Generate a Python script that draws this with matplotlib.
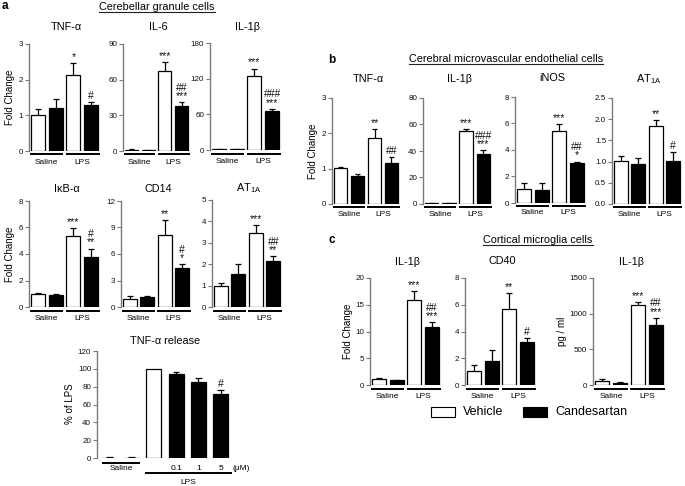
import matplotlib
matplotlib.use('Agg')
import matplotlib.pyplot as plt
import matplotlib.transforms as mtrans
from matplotlib.lines import Line2D
from matplotlib.patches import Rectangle
import numpy as np

plt.rcParams['font.family'] = ['Liberation Sans', 'DejaVu Sans']
plt.rcParams['mathtext.fontset'] = 'custom'
plt.rcParams['mathtext.rm'] = 'Liberation Sans'
plt.rcParams['mathtext.it'] = 'Liberation Sans:italic'
plt.rcParams['mathtext.bf'] = 'Liberation Sans:bold'

W, H = 685, 486
fig = plt.figure(figsize=(W / 100, H / 100), dpi=100)

# ---------------- data ----------------
groups = ['Saline', 'LPS']
legend_labels = ['Vehicle', 'Candesartan']

# Panel a: cerebellar granule cells (Saline-Veh, Saline-Cand, LPS-Veh, LPS-Cand)
a_tnf = [1.0, 1.21, 2.14, 1.29]
a_tnf_err = [0.18, 0.24, 0.33, 0.09]
a_il6 = [1.0, 0.7, 67.4, 37.5]
a_il6_err = [0.4, 0.3, 7.3, 3.6]
a_il1b = [1.0, 1.0, 124.5, 65.5]
a_il1b_err = [0.6, 0.6, 12.5, 4.0]
a_ikb = [1.0, 0.88, 5.36, 3.77]
a_ikb_err = [0.05, 0.11, 0.6, 0.64]
a_cd14 = [0.95, 1.13, 8.19, 4.45]
a_cd14_err = [0.26, 0.08, 1.7, 0.42]
a_at1a = [1.0, 1.56, 3.48, 2.14]
a_at1a_err = [0.12, 0.47, 0.35, 0.22]

# TNF-alpha release (% of LPS)
rel_labels = ['', '', '', '0.1', '1', '5']
rel_vals = [0.5, 0.5, 100.0, 94.3, 84.9, 72.0]
rel_err = [0.3, 0.3, 0.0, 1.9, 4.9, 3.8]

# Panel b: cerebral microvascular endothelial cells
b_tnf = [1.01, 0.80, 1.88, 1.17]
b_tnf_err = [0.05, 0.05, 0.24, 0.15]
b_il1b = [0.5, 0.5, 54.9, 38.1]
b_il1b_err = [0.3, 0.4, 2.0, 2.5]
b_inos = [1.05, 1.0, 5.43, 3.0]
b_inos_err = [0.43, 0.48, 0.55, 0.13]
b_at1a = [1.02, 0.95, 1.84, 1.02]
b_at1a_err = [0.11, 0.14, 0.14, 0.21]

# Panel c: cortical microglia cells
c_il1b = [1.06, 0.94, 15.9, 10.9]
c_il1b_err = [0.19, 0.05, 1.6, 0.85]
c_cd40 = [1.02, 1.78, 5.71, 3.25]
c_cd40_err = [0.5, 0.81, 1.19, 0.25]
c_il1b_pg = [56, 33, 1118, 848]
c_il1b_pg_err = [23, 9, 47, 93]

# ---------------- helpers ----------------
SPINE = '#7a7a7a'


def make_ax(left, top, right, bottom):
    return fig.add_axes([left / W, 1 - bottom / H, (right - left) / W, (bottom - top) / H])


def style_ax(ax, ymax, yticks, fmt=None):
    for s in ['top', 'right', 'bottom']:
        ax.spines[s].set_visible(False)
    ax.spines['left'].set_color(SPINE)
    ax.spines['left'].set_linewidth(1.0)
    ax.set_ylim(0, ymax)
    ax.set_yticks(yticks)
    if fmt:
        ax.set_yticklabels([fmt.format(v) for v in yticks])
    ax.tick_params(axis='y', length=3, width=0.8, color=SPINE, labelsize=5.8, pad=1.2, labelcolor='#111111')
    ax.set_xticks([])


def errbars(ax, x, vals, errs, hw=0.17):
    x = np.asarray(x, float)
    v = np.asarray(vals, float)
    e = np.asarray(errs, float)
    m = e > 0
    ax.vlines(x[m], v[m], v[m] + e[m], color='black', lw=0.9, zorder=1)
    ax.hlines(v[m] + e[m], x[m] - hw, x[m] + hw, color='black', lw=0.9, zorder=1)


def hline_px(ax, x0, x1, dpx, lw=1.4):
    bb = ax.get_position()
    hpx = bb.height * H
    tr = mtrans.blended_transform_factory(ax.transData, ax.transAxes)
    ax.plot([x0, x1], [-dpx / hpx] * 2, transform=tr, clip_on=False, color='black', lw=lw,
            solid_capstyle='butt')


def text_px(ax, x, dpx, s, **kw):
    bb = ax.get_position()
    hpx = bb.height * H
    tr = mtrans.blended_transform_factory(ax.transData, ax.transAxes)
    ax.text(x, -dpx / hpx, s, transform=tr, ha='center', va='center', clip_on=False, **kw)


def annotate(ax, x, top, s, ymax, hpx):
    pad = ymax * 1.0 / hpx
    ax.text(x, top + pad, s, ha='center', va='bottom', fontsize=7.5, linespacing=0.8,
            color='#111111')


def panel(box, vals, errs, ymax, yticks, title, title_y, ann_v, ann_c,
          ylabel=None, ylabel_x=None, fmt=None, label_off=11):
    left, top, right, bottom = box
    ax = make_ax(*box)
    x = [0, 1, 2, 3]
    colors = ['white', 'black', 'white', 'black']
    ax.bar(x, vals, width=0.78, color=colors, edgecolor='black', linewidth=0.9, zorder=2)
    errbars(ax, x, vals, errs)
    ax.set_xlim(-0.5, 3.5)
    style_ax(ax, ymax, yticks, fmt)
    hpx = bottom - top
    if ann_v:
        annotate(ax, 2, vals[2] + errs[2], ann_v, ymax, hpx)
    if ann_c:
        annotate(ax, 3, vals[3] + errs[3], ann_c, ymax, hpx)
    hline_px(ax, -0.45, 1.42, 3.5)
    hline_px(ax, 1.58, 3.5, 3.5)
    text_px(ax, 0.5, label_off, groups[0], fontsize=6)
    text_px(ax, 2.5, label_off, groups[1], fontsize=6)
    fig.text((left + right) / 2 / W + 2 / W, 1 - title_y / H, title, ha='center', va='center',
             fontsize=7.8)
    if ylabel:
        fig.text(ylabel_x / W, 1 - (top + bottom) / 2 / H, ylabel, rotation=90, ha='center',
                 va='center', fontsize=7)
    return ax


# ---------------- panel a ----------------
panel((29, 44, 100, 151), a_tnf, a_tnf_err, 3, [0, 1, 2, 3], 'TNF-α', 27, '*', '#',
      'Fold Change', 10)
panel((123, 44, 190, 151), a_il6, a_il6_err, 90, [0, 30, 60, 90], 'IL-6', 27, '***', '##\n***')
panel((210, 43, 281, 150), a_il1b, a_il1b_err, 180, [0, 60, 120, 180], 'IL-1β', 27, '***',
      '###\n***')
panel((29, 201, 100, 307), a_ikb, a_ikb_err, 8, [0, 2, 4, 6, 8], 'IκB-α', 189, '***', '#\n**',
      'Fold Change', 10)
panel((121, 201, 191, 307), a_cd14, a_cd14_err, 12, [0, 3, 6, 9, 12], 'CD14', 189, '**', '#\n*')
panel((212, 200, 282, 307), a_at1a, a_at1a_err, 5, [0, 1, 2, 3, 4, 5], r'AT$_{\mathregular{1A}}$',
      188, '***', '##\n**')

# TNF-alpha release
rbox = (97, 351, 231, 458)
axr = make_ax(*rbox)
xr = np.arange(len(rel_vals))
rcol = ['white', 'black', 'white', 'black', 'black', 'black']
axr.bar(xr, rel_vals, width=0.68, color=rcol, edgecolor='black', linewidth=0.9, zorder=2)
errbars(axr, xr, rel_vals, rel_err, hw=0.15)
axr.set_xlim(-0.56, 5.47)
style_ax(axr, 120, [0, 20, 40, 60, 80, 100, 120])
annotate(axr, 5, rel_vals[5] + rel_err[5], '#', 120, 107)
hline_px(axr, -0.33, 1.38, 4.5)
text_px(axr, 0.52, 10.5, groups[0], fontsize=6)
for i in range(3, 6):
    text_px(axr, xr[i], 10.5, rel_labels[i], fontsize=6)
text_px(axr, 5.95, 10.5, '(μM)', fontsize=6)
hline_px(axr, 1.60, 5.52, 15)
text_px(axr, 3.56, 24, groups[1], fontsize=6)
fig.text(165 / W, 1 - 341 / H, 'TNF-α release', ha='center', va='center', fontsize=7.8)
fig.text(70 / W, 1 - 404 / H, '% of LPS', rotation=90, ha='center', va='center', fontsize=7)

# ---------------- panel b ----------------
panel((332, 98, 400, 204), b_tnf, b_tnf_err, 3, [0, 1, 2, 3], 'TNF-α', 79, '**', '##',
      'Fold Change', 313, label_off=10)
panel((423, 98, 492, 204), b_il1b, b_il1b_err, 80, [0, 20, 40, 60, 80], 'IL-1β', 79, '***',
      '###\n***', label_off=10)
panel((515, 97, 586, 203), b_inos, b_inos_err, 8, [0, 2, 4, 6, 8], 'iNOS', 78, '***', '##\n*',
      label_off=10)
panel((612, 98, 682, 204), b_at1a, b_at1a_err, 2.5, [0, 0.5, 1.0, 1.5, 2.0, 2.5],
      r'AT$_{\mathregular{1A}}$', 79, '**', '#', fmt='{:.1f}', label_off=10)

# ---------------- panel c ----------------
panel((370, 278, 441, 385), c_il1b, c_il1b_err, 20, [0, 5, 10, 15, 20], 'IL-1β', 262, '***',
      '##\n***', 'Fold Change', 348)
panel((465, 278, 536, 385), c_cd40, c_cd40_err, 8, [0, 2, 4, 6, 8], 'CD40', 261, '**', '#')
panel((593, 278, 665, 385), c_il1b_pg, c_il1b_pg_err, 1500, [0, 500, 1000, 1500], 'IL-1β', 262,
      '***', '##\n***', 'pg / ml', 562)

# ---------------- panel letters, section titles, legend ----------------
fig.text(5 / W, 1 - 6 / H, 'a', fontsize=8.5, fontweight='bold', ha='center', va='center')
fig.text(332 / W, 1 - 60 / H, 'b', fontsize=8.5, fontweight='bold', ha='center', va='center')
fig.text(332 / W, 1 - 240 / H, 'c', fontsize=8.5, fontweight='bold', ha='center', va='center')

sec = [
    fig.text(157 / W, 1 - 7 / H, 'Cerebellar granule cells', ha='center', va='center', fontsize=7.8),
    fig.text(506 / W, 1 - 59 / H, 'Cerebral microvascular endothelial cells', ha='center',
             va='center', fontsize=7.8),
    fig.text(538 / W, 1 - 240 / H, 'Cortical microglia cells', ha='center', va='center',
             fontsize=7.8),
]
fig.canvas.draw()
rend = fig.canvas.get_renderer()
for t in sec:
    bb = t.get_window_extent(rend)
    y = bb.y0 - 0.5
    fig.add_artist(Line2D([bb.x0 / W, bb.x1 / W], [y / H, y / H], transform=fig.transFigure,
                          color='#222222', lw=0.8))

for (x0, col, lab) in [(431, 'white', legend_labels[0]), (523, 'black', legend_labels[1])]:
    fig.add_artist(Rectangle((x0 / W, 1 - 417 / H), 24 / W, 10 / H, transform=fig.transFigure,
                             facecolor=col, edgecolor='black', lw=0.8))
    fig.text((x0 + 32) / W, 1 - 412 / H, lab, ha='left', va='center', fontsize=9)

fig.savefig('out.png', dpi=100)
